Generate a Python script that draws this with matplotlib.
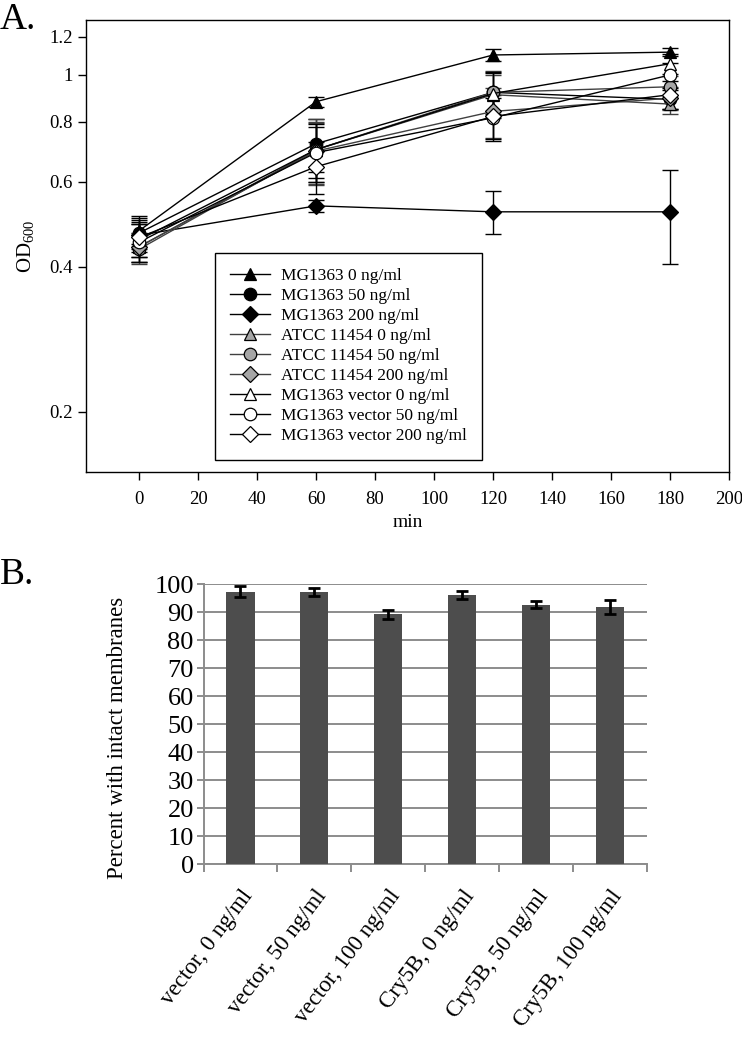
import matplotlib
matplotlib.use("Agg")
import matplotlib.pyplot as plt
from matplotlib.ticker import FixedLocator, NullLocator, FixedFormatter

plt.rcParams['font.family'] = ['Liberation Serif', 'DejaVu Serif']
plt.rcParams['mathtext.fontset'] = 'custom'
plt.rcParams['mathtext.rm'] = 'Liberation Serif'

# panel A: growth curves
times = [0, 60, 120, 180]
names = ['MG1363 0 ng/ml', 'MG1363 50 ng/ml', 'MG1363 200 ng/ml',
         'ATCC 11454 0 ng/ml', 'ATCC 11454 50 ng/ml', 'ATCC 11454 200 ng/ml',
         'MG1363 vector 0 ng/ml', 'MG1363 vector 50 ng/ml', 'MG1363 vector 200 ng/ml']
od = [
    [0.475, 0.88, 1.10, 1.115],
    [0.47, 0.72, 0.92, 0.89],
    [0.465, 0.535, 0.52, 0.52],
    [0.44, 0.70, 0.91, 0.87],
    [0.435, 0.70, 0.92, 0.945],
    [0.44, 0.695, 0.84, 0.895],
    [0.455, 0.70, 0.915, 1.055],
    [0.45, 0.69, 0.815, 1.0],
    [0.46, 0.645, 0.82, 0.91],
]
od_err = [
    [0.03, 0.02, 0.03, 0.02],
    [0.04, 0.09, 0.09, 0.04],
    [0.03, 0.015, 0.053, 0.115],
    [0.03, 0.10, 0.09, 0.04],
    [0.03, 0.11, 0.10, 0.05],
    [0.03, 0.10, 0.10, 0.05],
    [0.035, 0.09, 0.10, 0.05],
    [0.04, 0.09, 0.08, 0.06],
    [0.04, 0.08, 0.09, 0.06],
]
od_ticks = [0.2, 0.4, 0.6, 0.8, 1.0, 1.2]
od_ticklabels = ['0.2', '0.4', '0.6', '0.8', '1', '1.2']
min_ticks = [0, 20, 40, 60, 80, 100, 120, 140, 160, 180, 200]

# panel B: membrane integrity
groups = ['vector, 0 ng/ml', 'vector, 50 ng/ml', 'vector, 100 ng/ml',
          'Cry5B, 0 ng/ml', 'Cry5B, 50 ng/ml', 'Cry5B, 100 ng/ml']
intact = [97.3, 97.3, 89.2, 96.0, 92.6, 91.8]
intact_err = [2.0, 1.4, 1.6, 1.5, 1.2, 2.6]

markers = ['^', 'o', 'D'] * 3
fills = ['black'] * 3 + ['#a6a6a6'] * 3 + ['white'] * 3
lcols = ['black'] * 3 + ['#404040'] * 3 + ['black'] * 3
msizes = [9, 9, 8] * 3

fig = plt.figure(figsize=(7.42, 10.37), dpi=100)

ax = fig.add_axes([0.1159, 0.5448, 0.8666, 0.4359])
for i in range(len(names)):
    ax.errorbar(times, od[i], yerr=od_err[i], fmt='none', ecolor=lcols[i],
                elinewidth=1.0, capsize=6, capthick=1.0, zorder=2)
for i in range(len(names)):
    ax.plot(times, od[i], color=lcols[i], lw=1.0, marker=markers[i],
            markersize=msizes[i], markerfacecolor=fills[i],
            markeredgecolor='black', markeredgewidth=0.9,
            label=names[i], zorder=3)
ax.set_yscale('log')
ax.set_ylim(0.15, 1.3)
ax.set_xlim(-18, 200)
ax.yaxis.set_major_locator(FixedLocator(od_ticks))
ax.yaxis.set_major_formatter(FixedFormatter(od_ticklabels))
ax.yaxis.set_minor_locator(NullLocator())
ax.set_xticks(min_ticks)
ax.tick_params(axis='both', direction='out', length=6, width=1.0,
               labelsize=13.5, colors='black')
ax.tick_params(axis='x', pad=8)
for s in ax.spines.values():
    s.set_linewidth(1.0)
ax.set_xlabel('min', fontsize=14, labelpad=4)
ax.set_ylabel('OD$_{600}$', fontsize=15, labelpad=9)
leg = ax.legend(loc='lower left', bbox_to_anchor=(0.2, 0.027),
                borderaxespad=0, fontsize=12.5, labelspacing=0.22,
                handlelength=2.3, handletextpad=0.6, borderpad=0.9,
                fancybox=False, framealpha=1, edgecolor='black')
leg.get_frame().set_linewidth(1.0)
fig.text(0.0, 0.998, 'A.', fontsize=27, ha='left', va='top')

bx = fig.add_axes([0.2743, 0.1668, 0.5977, 0.27])
pos = list(range(len(groups)))
bx.bar(pos, intact, width=0.38, color='#4d4d4d', zorder=3)
bx.errorbar(pos, intact, yerr=intact_err, fmt='none', ecolor='black',
            elinewidth=2, capsize=4, capthick=2, zorder=4)
bx.set_ylim(0, 100)
bx.set_xlim(-0.5, len(groups) - 0.5)
bx.set_yticks(range(0, 101, 10))
bx.yaxis.grid(True, color='#8c8c8c', lw=1.4, zorder=0)
bx.set_axisbelow(True)
for s in ['top', 'right']:
    bx.spines[s].set_visible(False)
for s in ['left', 'bottom']:
    bx.spines[s].set_color('#8c8c8c')
    bx.spines[s].set_linewidth(1.4)
bx.set_xticks(pos)
bx.set_xticklabels(groups, rotation=53, ha='right', rotation_mode='anchor',
                   fontsize=16.5)
bx.set_xticks([p - 0.5 for p in pos] + [len(groups) - 0.5], minor=True)
bx.tick_params(axis='x', which='major', length=0, pad=16)
bx.tick_params(axis='x', which='minor', length=6, width=1.4, color='#8c8c8c')
bx.tick_params(axis='y', length=5, width=1.4, color='#8c8c8c', labelsize=19,
               pad=2)
bx.set_ylabel('Percent with intact membranes', fontsize=16.5)
bx.yaxis.set_label_coords(-0.17, 0.45)
fig.text(0.0, 0.462, 'B.', fontsize=27, ha='left', va='top')

fig.savefig('out.png', dpi=100)
